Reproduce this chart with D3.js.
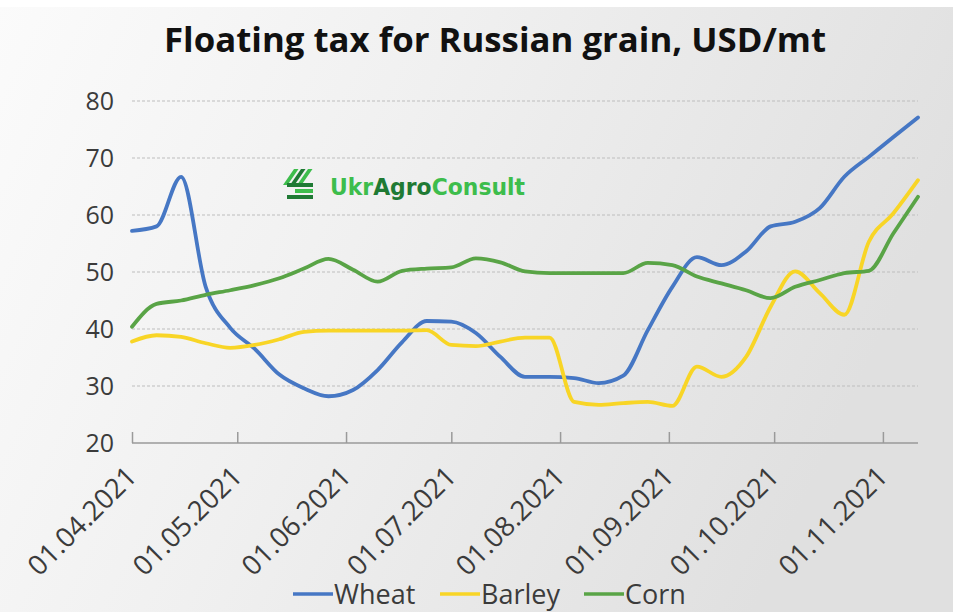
<!DOCTYPE html>
<html>
<head>
<meta charset="utf-8">
<script src="https://cdn.jsdelivr.net/npm/d3@7"></script>
<style>
  html, body { margin: 0; padding: 0; background: #ffffff; }
  svg { display: block; }
</style>
</head>
<body>
<div id="chart"></div>
<script>
const dates = ["2021-04-01","2021-04-08","2021-04-15","2021-04-22","2021-04-29",
  "2021-05-06","2021-05-13","2021-05-20","2021-05-27",
  "2021-06-03","2021-06-10","2021-06-17","2021-06-24",
  "2021-07-01","2021-07-08","2021-07-15","2021-07-22","2021-07-29",
  "2021-08-05","2021-08-12","2021-08-19","2021-08-26",
  "2021-09-02","2021-09-09","2021-09-16","2021-09-23","2021-09-30",
  "2021-10-07","2021-10-14","2021-10-21","2021-10-28",
  "2021-11-04","2021-11-11"];
const wheat  = [57.2, 58, 66.7, 47.4, 40.2, 36.5, 32, 29.6, 28.2, 29.3, 32.8, 37.7, 41.4, 41.3, 39.3, 35.1, 31.6, 31.6, 31.4, 30.5, 31.8, 39.8, 47.4, 52.6, 51.2, 53.6, 58, 58.8, 61.2, 66.7, 70.2, 73.7, 77.1];
const barley = [37.8, 38.9, 38.6, 37.5, 36.7, 37.2, 38.2, 39.5, 39.7, 39.7, 39.7, 39.7, 39.8, 37.2, 37.0, 37.8, 38.5, 38.5, 27.2, 26.7, 27.0, 27.2, 26.5, 33.4, 31.6, 35.1, 43.9, 50.1, 46.3, 42.5, 55.3, 60.3, 66.1];
const corn   = [40.4, 44.4, 45, 46, 46.8, 47.7, 48.9, 50.6, 52.3, 50.4, 48.3, 50.2, 50.6, 50.8, 52.4, 51.7, 50.1, 49.8, 49.8, 49.8, 49.8, 51.6, 51.2, 49.2, 48.0, 46.8, 45.4, 47.4, 48.6, 49.8, 50.2, 56.8, 63.2];
const seriesNames = ["Wheat", "Barley", "Corn"];
const yTicks = [20, 30, 40, 50, 60, 70, 80];
const xTickDates = ["2021-04-01","2021-05-01","2021-06-01","2021-07-01","2021-08-01","2021-09-01","2021-10-01","2021-11-01"];
const title = "Floating tax for Russian grain, USD/mt";

const W = 953, H = 612;
const colors = { Wheat: "#4677c4", Barley: "#f8d526", Corn: "#59a446" };
const parse = d3.timeParse("%Y-%m-%d");
const fmt = d3.timeFormat("%d.%m.%Y");

const svg = d3.select("#chart").append("svg").attr("width", W).attr("height", H);
const defs = svg.append("defs");
const grad = defs.append("linearGradient").attr("id", "bg").attr("x1", "0").attr("y1", "0").attr("x2", "1").attr("y2", "0.3");
grad.append("stop").attr("offset", "0").attr("stop-color", "#fbfbfb");
grad.append("stop").attr("offset", "0.45").attr("stop-color", "#f0f0f0");
grad.append("stop").attr("offset", "1").attr("stop-color", "#e0e0e0");
svg.append("rect").attr("width", W).attr("height", H).attr("fill", "url(#bg)");
svg.append("rect").attr("width", W).attr("height", 7).attr("fill", "#ffffff");

const x = d3.scaleTime().domain([parse(dates[0]), parse(dates[dates.length - 1])]).range([132, 918]);
const y = d3.scaleLinear().domain([20, 80]).range([443, 101]);

// gridlines
svg.append("g").selectAll("line").data(yTicks.filter(v => v > 20)).join("line")
  .attr("x1", 132).attr("x2", 918)
  .attr("y1", d => y(d)).attr("y2", d => y(d))
  .attr("stroke", "#bdbdbd").attr("stroke-width", 1.2).attr("stroke-dasharray", "3,2");

// x axis
const xAxis = d3.axisBottom(x).tickValues(xTickDates.map(parse)).tickSize(-11).tickFormat(fmt);
const gx = svg.append("g").attr("transform", "translate(0,443)").call(xAxis);
gx.select(".domain").attr("stroke", "#9a9a9a").attr("stroke-width", 1.5).attr("d", "M132,0H918");
gx.selectAll(".tick line").attr("stroke", "#9a9a9a").attr("stroke-width", 1.5);
gx.selectAll(".tick text")
  .attr("font-family", "Open Sans").attr("font-size", 27.5).attr("fill", "#3b3b3b")
  .attr("text-anchor", "end").attr("dy", null).attr("y", null)
  .attr("transform", "translate(6,35) rotate(-45)");

// y axis labels
const yAxis = d3.axisLeft(y).tickValues(yTicks).tickSize(0).tickPadding(0);
const gy = svg.append("g").attr("transform", "translate(114,0)").call(yAxis);
gy.select(".domain").remove();
gy.selectAll(".tick text").attr("font-family", "Open Sans").attr("font-size", 25).attr("fill", "#3b3b3b");

// lines
const seriesData = [wheat, barley, corn];
const line = d3.line().x((d, i) => x(parse(dates[i]))).y(d => y(d)).curve(d3.curveMonotoneX);
svg.append("g").selectAll("path").data([0, 1, 2]).join("path")
  .attr("d", i => line(seriesData[i]))
  .attr("fill", "none").attr("stroke", i => colors[seriesNames[i]])
  .attr("stroke-width", 3.8).attr("stroke-linejoin", "round").attr("stroke-linecap", "round");

// title
svg.append("text").attr("x", 495).attr("y", 52).attr("text-anchor", "middle")
  .attr("font-family", "Open Sans").attr("font-weight", "bold").attr("font-size", 34)
  .attr("fill", "#111111").attr("textLength", 662).attr("lengthAdjust", "spacingAndGlyphs")
  .text(title);

// logo
const lg = "#3dbd4c", dg = "#1f7a34";
const logo = svg.append("g").attr("transform", "translate(283,167)");
[0, 1, 2].forEach(k => {
  logo.append("path")
    .attr("d", `M${k * 7},${18} L${k * 7 + 11},${2} L${k * 7 + 15.5},${2} L${k * 7 + 4.5},${18} Z`)
    .attr("fill", k === 1 ? dg : lg);
});
[0, 1, 2].forEach(k => {
  logo.append("rect").attr("x", k === 1 ? 12 : 4).attr("y", 16 + k * 6).attr("width", k === 1 ? 18 : 26).attr("height", 4)
    .attr("fill", k === 1 ? lg : dg);
});
const lt = svg.append("text").attr("x", 330).attr("y", 195)
  .attr("font-family", "DejaVu Sans").attr("font-weight", "bold").attr("font-size", 23)
  .attr("textLength", 195).attr("lengthAdjust", "spacingAndGlyphs");
lt.append("tspan").attr("fill", lg).text("Ukr");
lt.append("tspan").attr("fill", dg).text("Agro");
lt.append("tspan").attr("fill", lg).text("Consult");

// legend
const legendItems = [
  { name: "Wheat", x: 293 },
  { name: "Barley", x: 440 },
  { name: "Corn", x: 584 }
];
const lgG = svg.append("g").selectAll("g").data(legendItems).join("g")
  .attr("transform", d => `translate(${d.x},594)`);
lgG.append("line").attr("x1", 0).attr("x2", 40).attr("y1", 0).attr("y2", 0)
  .attr("stroke", d => colors[d.name]).attr("stroke-width", 3.5);
lgG.append("text").attr("x", 41).attr("y", 9.5)
  .attr("font-family", "Open Sans").attr("font-size", 27).attr("fill", "#3b3b3b")
  .text(d => d.name);
</script>
</body>
</html>
